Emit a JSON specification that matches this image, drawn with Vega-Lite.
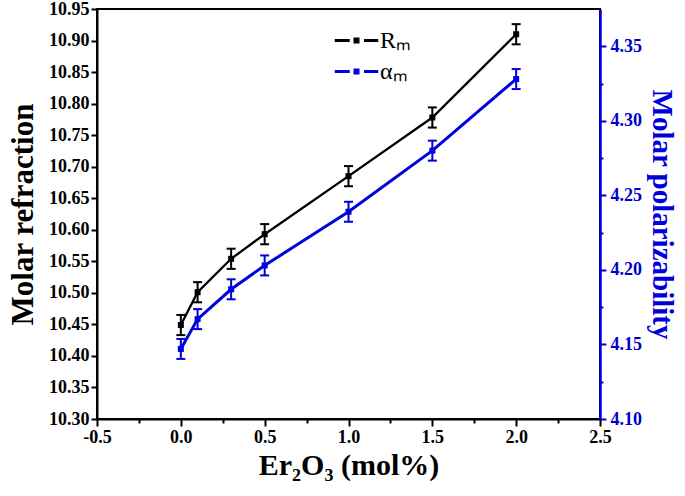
{
  "$schema": "https://vega.github.io/schema/vega-lite/v6.json",
  "width": 503,
  "height": 410,
  "autosize": {"type": "none"},
  "padding": {"left": 97, "top": 9, "right": 85, "bottom": 77},
  "background": "white",
  "config": {
    "view": {"stroke": "black", "strokeWidth": 2},
    "axis": {
      "grid": false,
      "labelFont": "Liberation Serif",
      "labelFontWeight": "bold",
      "labelFontSize": 18,
      "titleFont": "Liberation Serif",
      "titleFontWeight": "bold",
      "titleFontSize": 31,
      "domainWidth": 2,
      "tickWidth": 2,
      "labelFlush": false,
      "labelOverlap": false
    }
  },
  "datasets": {
    "rm": [
      {"x": 0.0, "v": 10.449, "lo": 10.433, "hi": 10.465, "s": "Rₘ"},
      {"x": 0.1, "v": 10.501, "lo": 10.485, "hi": 10.517, "s": "Rₘ"},
      {"x": 0.3, "v": 10.554, "lo": 10.538, "hi": 10.570, "s": "Rₘ"},
      {"x": 0.5, "v": 10.593, "lo": 10.577, "hi": 10.609, "s": "Rₘ"},
      {"x": 1.0, "v": 10.685, "lo": 10.669, "hi": 10.701, "s": "Rₘ"},
      {"x": 1.5, "v": 10.778, "lo": 10.762, "hi": 10.794, "s": "Rₘ"},
      {"x": 2.0, "v": 10.910, "lo": 10.894, "hi": 10.926, "s": "Rₘ"}
    ],
    "am": [
      {"x": 0.0, "v": 4.147, "lo": 4.1403, "hi": 4.1537, "s": "αₘ"},
      {"x": 0.1, "v": 4.167, "lo": 4.1603, "hi": 4.1737, "s": "αₘ"},
      {"x": 0.3, "v": 4.187, "lo": 4.1803, "hi": 4.1937, "s": "αₘ"},
      {"x": 0.5, "v": 4.203, "lo": 4.1963, "hi": 4.2097, "s": "αₘ"},
      {"x": 1.0, "v": 4.239, "lo": 4.2323, "hi": 4.2457, "s": "αₘ"},
      {"x": 1.5, "v": 4.280, "lo": 4.2733, "hi": 4.2867, "s": "αₘ"},
      {"x": 2.0, "v": 4.328, "lo": 4.3213, "hi": 4.3347, "s": "αₘ"}
    ]
  },
  "encoding": {
    "x": {
      "field": "x",
      "type": "quantitative",
      "scale": {"domain": [-0.5, 2.5]},
      "axis": {
        "title": "Er₂O₃ (mol%)",
        "titleFontSize": 30,
        "values": [-0.5, -0.25, 0, 0.25, 0.5, 0.75, 1, 1.25, 1.5, 1.75, 2, 2.25, 2.5],
        "labelExpr": "abs(datum.value*2 - round(datum.value*2)) < 0.001 ? replace(format(datum.value, '.1f'), '−', '-') : ''",
        "tickSize": {"condition": {"test": "abs(datum.value*2 - round(datum.value*2)) < 0.001", "value": 7}, "value": 4},
        "labelPadding": 2,
        "titlePadding": 4,
        "domainColor": "black",
        "tickColor": "black",
        "labelColor": "black",
        "titleColor": "black"
      }
    }
  },
  "layer": [
    {
      "data": {"name": "rm"},
      "mark": {"type": "rule", "strokeWidth": 2, "color": "black"},
      "encoding": {
        "y": {"field": "lo", "type": "quantitative", "scale": {"domain": [10.3, 10.95]}, "axis": null},
        "y2": {"field": "hi"}
      }
    },
    {
      "data": {"name": "rm"},
      "mark": {"type": "tick", "orient": "horizontal", "size": 9, "thickness": 2, "color": "black", "opacity": 1},
      "encoding": {
        "y": {"field": "lo", "type": "quantitative", "scale": {"domain": [10.3, 10.95]}, "axis": null}
      }
    },
    {
      "data": {"name": "rm"},
      "mark": {"type": "tick", "orient": "horizontal", "size": 9, "thickness": 2, "color": "black", "opacity": 1},
      "encoding": {
        "y": {"field": "hi", "type": "quantitative", "scale": {"domain": [10.3, 10.95]}, "axis": null}
      }
    },
    {
      "data": {"name": "rm"},
      "mark": {"type": "line", "strokeWidth": 2.3},
      "encoding": {
        "y": {
          "field": "v",
          "type": "quantitative",
          "scale": {"domain": [10.3, 10.95]},
          "axis": {
            "orient": "left",
            "title": "Molar refraction",
            "values": [10.3, 10.35, 10.4, 10.45, 10.5, 10.55, 10.6, 10.65, 10.7, 10.75, 10.8, 10.85, 10.9, 10.95],
            "format": ".2f",
            "tickSize": 6,
            "labelPadding": 2,
            "titlePadding": 9,
            "domainColor": "black",
            "tickColor": "black",
            "labelColor": "black",
            "titleColor": "black"
          }
        },
        "color": {
          "field": "s",
          "type": "nominal",
          "scale": {"domain": ["Rₘ", "αₘ"], "range": ["black", "#0000dd"]},
          "legend": {
            "orient": "none",
            "legendX": 243,
            "legendY": 15,
            "title": null,
            "padding": 0,
            "symbolType": "M-1.45,0H-0.45M0.5,0H1.45M-0.1,-0.1H0.1V0.1H-0.1Z",
            "symbolSize": 900,
            "symbolStrokeWidth": 3,
            "labelFont": "Liberation Serif",
            "labelFontSize": 24,
            "labelColor": "black",
            "labelOffset": 7,
            "rowPadding": 2,
            "encode": {
              "symbols": {
                "update": {
                  "stroke": {"signal": "datum.index === 0 ? 'black' : '#0000dd'"},
                  "fill": {"signal": "datum.index === 0 ? 'black' : '#0000dd'"},
                  "opacity": {"value": 1}
                }
              }
            }
          }
        }
      }
    },
    {
      "data": {"name": "rm"},
      "mark": {"type": "square", "size": 36, "filled": true, "color": "black", "opacity": 1},
      "encoding": {
        "y": {"field": "v", "type": "quantitative", "scale": {"domain": [10.3, 10.95]}, "axis": null}
      }
    },
    {
      "data": {"name": "am"},
      "mark": {"type": "rule", "strokeWidth": 2, "color": "#0000dd"},
      "encoding": {
        "y": {"field": "lo", "type": "quantitative", "scale": {"domain": [4.1, 4.375]}, "axis": null},
        "y2": {"field": "hi"}
      }
    },
    {
      "data": {"name": "am"},
      "mark": {"type": "tick", "orient": "horizontal", "size": 9, "thickness": 2, "color": "#0000dd", "opacity": 1},
      "encoding": {
        "y": {"field": "lo", "type": "quantitative", "scale": {"domain": [4.1, 4.375]}, "axis": null}
      }
    },
    {
      "data": {"name": "am"},
      "mark": {"type": "tick", "orient": "horizontal", "size": 9, "thickness": 2, "color": "#0000dd", "opacity": 1},
      "encoding": {
        "y": {"field": "hi", "type": "quantitative", "scale": {"domain": [4.1, 4.375]}, "axis": null}
      }
    },
    {
      "data": {"name": "am"},
      "mark": {"type": "line", "strokeWidth": 3},
      "encoding": {
        "y": {
          "field": "v",
          "type": "quantitative",
          "scale": {"domain": [4.1, 4.375]},
          "axis": {
            "orient": "right",
            "title": "Molar polarizability",
            "titleFontSize": 29,
            "values": [4.1, 4.125, 4.15, 4.175, 4.2, 4.225, 4.25, 4.275, 4.3, 4.325, 4.35],
            "labelExpr": "abs(datum.value*20 - round(datum.value*20)) < 0.001 ? format(datum.value, '.2f') : ''",
            "tickSize": {"condition": {"test": "abs(datum.value*20 - round(datum.value*20)) < 0.001", "value": 6}, "value": 3},
            "labelPadding": 4,
            "titlePadding": 5,
            "domainColor": "#0000dd",
            "domainWidth": 2.5,
            "tickColor": "#0000dd",
            "labelColor": "#0000cc",
            "titleColor": "#0000dd"
          }
        },
        "color": {"field": "s", "type": "nominal"}
      }
    },
    {
      "data": {"name": "am"},
      "mark": {"type": "square", "size": 36, "filled": true, "color": "#0000dd", "opacity": 1},
      "encoding": {
        "y": {"field": "v", "type": "quantitative", "scale": {"domain": [4.1, 4.375]}, "axis": null}
      }
    }
  ],
  "resolve": {"scale": {"y": "independent"}}
}
